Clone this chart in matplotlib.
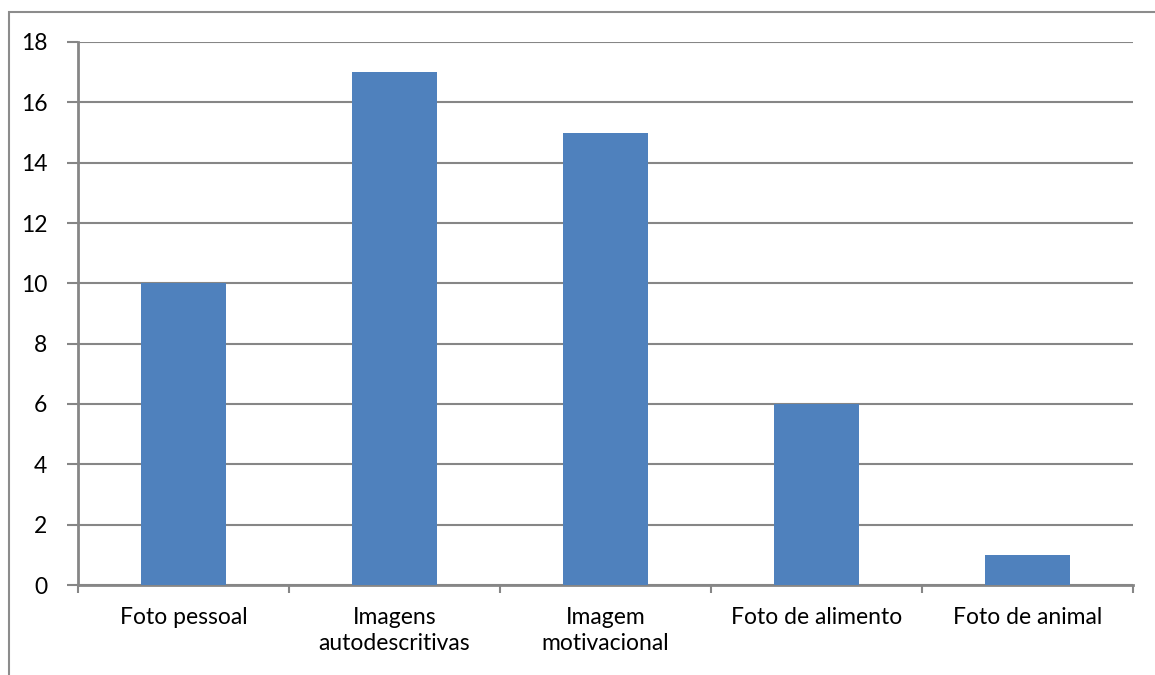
import matplotlib

matplotlib.use("Agg")
import matplotlib.pyplot as plt
from matplotlib.patches import Rectangle
import numpy as np

categories = [
    "Foto pessoal",
    "Imagens\nautodescritivas",
    "Imagem\nmotivacional",
    "Foto de alimento",
    "Foto de animal",
]
counts = [10, 17, 15, 6, 1]
yticks = [0, 2, 4, 6, 8, 10, 12, 14, 16, 18]

W, H = 1155, 675
plt.rcParams["font.family"] = ["Lato", "DejaVu Sans"]

fig = plt.figure(figsize=(W / 100, H / 100), dpi=100)
ax = fig.add_axes([78 / W, 1 - 585 / H, (1133 - 78) / W, (585 - 42) / H])

grid_col = "#868686"
x = np.arange(len(categories))
ax.bar(x, counts, width=0.4, color="#4F81BD", zorder=3)

ax.set_xlim(-0.5, len(categories) - 0.5)
ax.set_ylim(0, 18)
ax.set_yticks(yticks)
ax.set_yticklabels([str(v) for v in yticks], fontsize=16.5)
ax.yaxis.grid(True, color=grid_col, linewidth=1.5, zorder=0)
ax.set_axisbelow(True)

ax.set_xticks(x)
ax.set_xticklabels(categories, fontsize=16.5, linespacing=1.3)
ax.tick_params(axis="x", length=0, pad=16)
ax.set_xticks(np.arange(len(categories) + 1) - 0.5, minor=True)
ax.tick_params(axis="x", which="minor", length=6, width=1.5, color=grid_col)
ax.tick_params(axis="y", length=8, width=1.5, color=grid_col, pad=14)

for side in ("top", "right"):
    ax.spines[side].set_visible(False)
for side in ("left", "bottom"):
    ax.spines[side].set_color(grid_col)
    ax.spines[side].set_linewidth(2)

fig.patches.append(
    Rectangle((9 / W, -0.1), 1.2, 1 - 12 / H + 0.1, transform=fig.transFigure,
              fill=False, edgecolor="#8c8c8c", linewidth=1.5)
)

fig.savefig("out.png", dpi=100)
